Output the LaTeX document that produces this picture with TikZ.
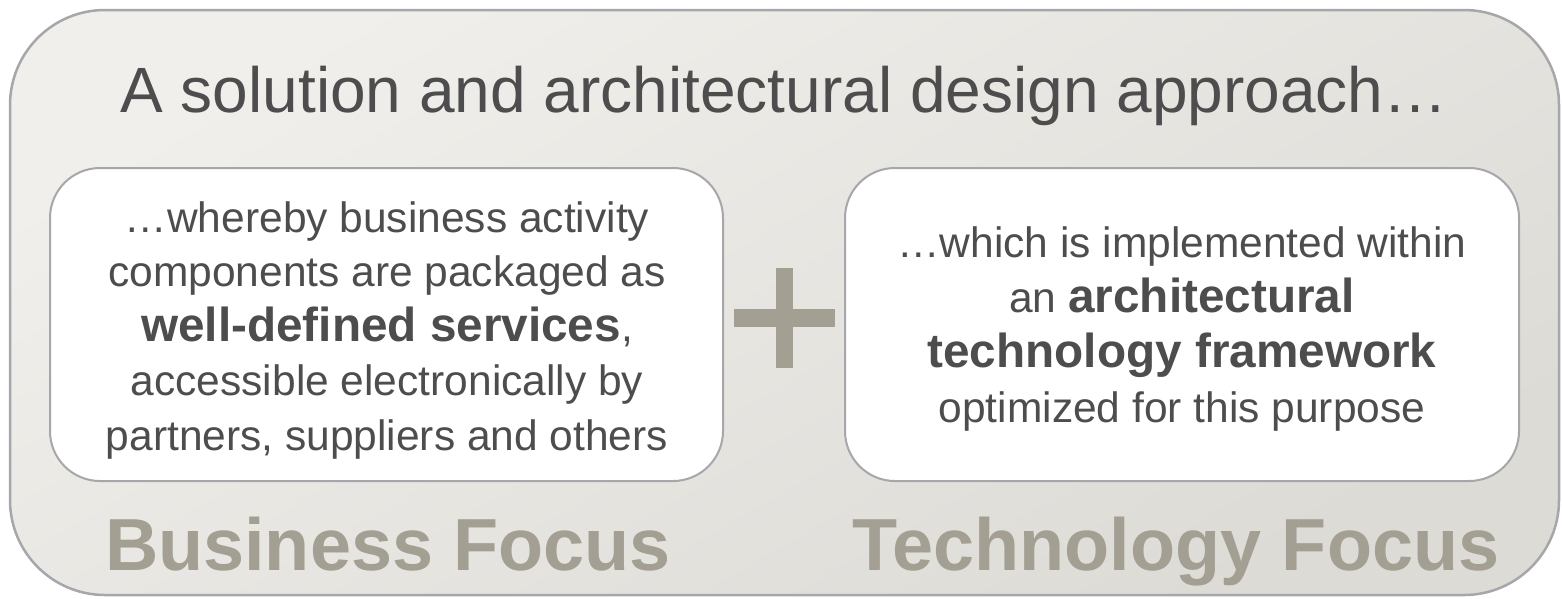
\documentclass[tikz,border=0pt]{standalone}
\usepackage{fontspec}
\setmainfont{Liberation Sans}
\definecolor{txt}{HTML}{4D4D4D}
\definecolor{focus}{HTML}{A39F93}
\definecolor{edge}{HTML}{A7A6AB}
\definecolor{bgA}{HTML}{F0EFEB}
\definecolor{bgB}{HTML}{DCDBD6}
\newcommand\emphb[1]{{\fontsize{47.7}{54.5}\selectfont\bfseries #1}}
\tikzset{
  outerbox/.style={draw=edge, line width=2.5pt, rounded corners=95pt, top color=bgA, bottom color=bgB, shading angle=30},
  innerbox/.style={draw=edge, line width=2pt, rounded corners=50pt, fill=white},
  bodytext/.style={text=txt, align=center, font=\fontsize{42.5}{54.5}\selectfont, inner sep=0pt, anchor=base},
  titletext/.style={text=txt, font=\fontsize{64}{70}\selectfont, inner sep=0pt, anchor=base},
  focustext/.style={text=focus, font=\fontsize{73.8}{80}\selectfont\bfseries, inner sep=0pt, anchor=base},
  plusbar/.style={fill=focus, draw=none}
}
\begin{document}
\begin{tikzpicture}[x=1pt, y=-1pt]
\useasboundingbox (0,0) rectangle (1562,598);
\path[outerbox] (10,10) rectangle (1559,595);
\node[titletext] (title) at (784,112) {A solution and architectural design approach…};
\path[innerbox] (50,168) rectangle (723,481);
\path[innerbox] (845,168) rectangle (1519,481);
% anchor=base of a multi-line node lies on its last line's baseline
\node[bodytext] (ltext) at (387,450) {…whereby business activity\\components are packaged as\\\emphb{well-defined services},\\accessible electronically by\\partners, suppliers and others};
\node[bodytext, font=\fontsize{42.5}{55}\selectfont] (rtext) at (1182,422) {…which is implemented within\\an \emphb{architectural}\\\emphb{technology framework}\\optimized for this purpose};
\path[plusbar] (776,268) rectangle (793,368);
\path[plusbar] (734,309) rectangle (835,327);
\node[focustext] (bf) at (388,570) {Business Focus};
\node[focustext] (tf) at (1176,570) {Technology Focus};
\end{tikzpicture}
\end{document}
